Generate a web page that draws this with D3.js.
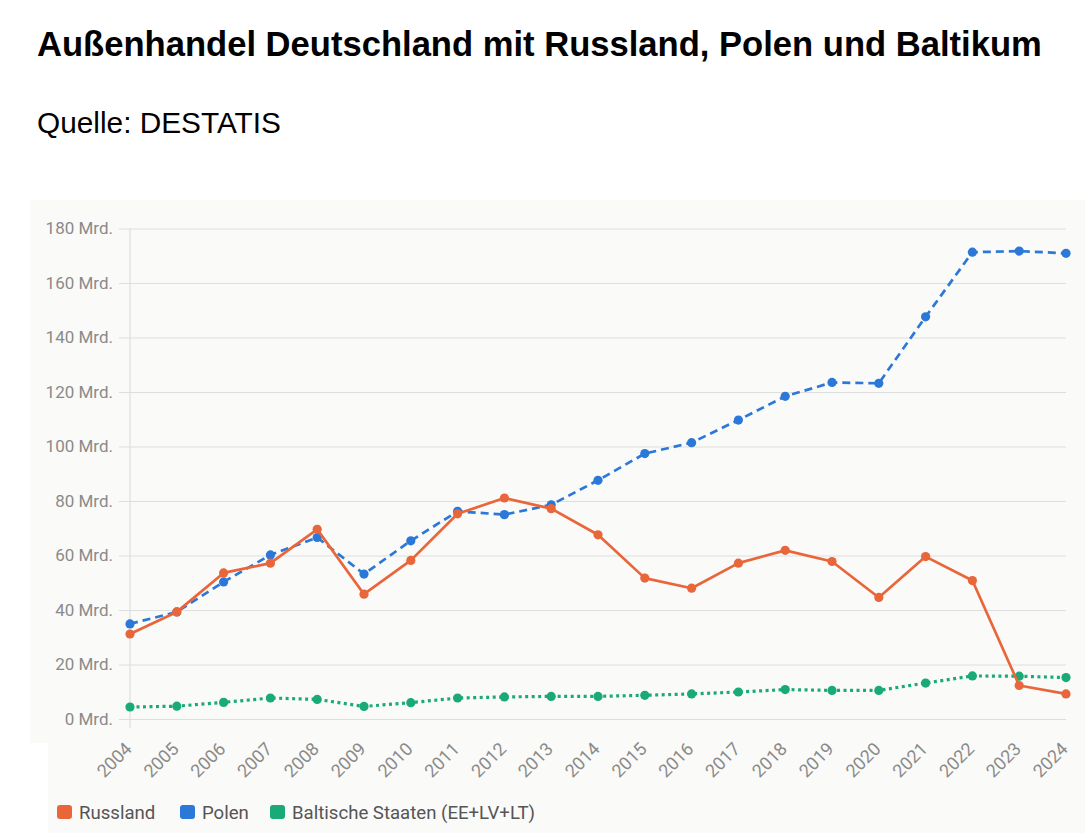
<!DOCTYPE html>
<html lang="de">
<head>
<meta charset="UTF-8"/>
<title>Außenhandel Deutschland mit Russland, Polen und Baltikum</title>
<script src="https://d3js.org/d3.v7.min.js"></script>
<style>
  body { margin: 0; background: #fff; }
  svg { display: block; }
</style>
</head>
<body>
<script>

    var w = 1085;
    var h = 833;

    // data (Mrd. Euro)
    var years = ["2004","2005","2006","2007","2008","2009","2010","2011","2012","2013","2014",
                 "2015","2016","2017","2018","2019","2020","2021","2022","2023","2024"];
    var russland = [31.2, 39.3, 53.6, 57.2, 69.6, 45.8, 58.2, 75.3, 81.1, 77.2, 67.6,
                    51.7, 48.0, 57.2, 61.9, 57.8, 44.6, 59.6, 50.8, 12.3, 9.2];
    var polen = [34.9, 39.3, 50.3, 60.2, 66.6, 53.2, 65.4, 76.2, 75.0, 78.6, 87.6,
                 97.4, 101.4, 109.7, 118.4, 123.5, 123.2, 147.6, 171.3, 171.7, 170.9];
    var baltikum = [4.4, 4.7, 6.1, 7.7, 7.2, 4.6, 6.0, 7.7, 8.1, 8.3, 8.3,
                    8.7, 9.2, 9.9, 10.8, 10.5, 10.5, 13.2, 15.8, 15.7, 15.2];
    var yTicks = [0, 20, 40, 60, 80, 100, 120, 140, 160, 180];
    var seriesNames = ["Russland", "Polen", "Baltische Staaten (EE+LV+LT)"];

    var series = [
        { name: seriesNames[0], values: russland, color: "#e8663a", dash: null },
        { name: seriesNames[1], values: polen,    color: "#2b78d8", dash: "8,5" },
        { name: seriesNames[2], values: baltikum, color: "#19aa78", dash: "3,3.5" }
    ];

    var svg = d3.select("body")
                .append("svg")
                .attr("width", w)
                .attr("height", h);

    // background panels
    svg.append("rect")
        .attr("x", 30).attr("y", 200)
        .attr("width", w - 30).attr("height", 543)
        .attr("fill", "#fafaf8");
    svg.append("rect")
        .attr("x", 48).attr("y", 743)
        .attr("width", w - 48).attr("height", h - 743)
        .attr("fill", "#fafaf8");

    // title
    svg.append("text")
        .attr("x", 37).attr("y", 56)
        .attr("font-family", "'Liberation Sans', Arial, sans-serif")
        .attr("font-weight", "bold")
        .attr("font-size", "34.6px")
        .attr("fill", "#000")
        .text("Außenhandel Deutschland mit Russland, Polen und Baltikum");

    svg.append("text")
        .attr("x", 37).attr("y", 133)
        .attr("font-family", "'Liberation Sans', Arial, sans-serif")
        .attr("font-size", "29.8px")
        .attr("fill", "#000")
        .text("Quelle: DESTATIS");

    // scales
    var xScale = d3.scalePoint()
        .domain(years)
        .range([130, 1066]);

    var yScale = d3.scaleLinear()
        .domain([0, 180])
        .range([719, 228.5]);

    // grid + y axis (axis sits at the right end, ticks reach back to x=119)
    var yAxis = d3.axisLeft(yScale)
        .tickValues(yTicks)
        .tickSize(1066 - 119)
        .tickPadding(6)
        .tickFormat(function(d) { return d + " Mrd."; });

    var gy = svg.append("g")
        .attr("transform", "translate(1066,0)")
        .call(yAxis);
    gy.select(".domain").remove();
    gy.selectAll("line")
        .attr("stroke", "#dedede")
        .attr("stroke-width", 1.2);
    gy.selectAll("text")
        .attr("font-family", "Roboto, sans-serif")
        .attr("font-size", "17px")
        .attr("fill", "#8a8a8a");

    // vertical axis line
    svg.append("line")
        .attr("x1", 130).attr("x2", 130)
        .attr("y1", 228.5).attr("y2", 728)
        .attr("stroke", "#dedede")
        .attr("stroke-width", 1.2);

    // x axis labels
    var xAxis = d3.axisBottom(xScale).tickSize(0).tickPadding(0);
    var gx = svg.append("g")
        .call(xAxis);
    gx.select(".domain").remove();
    gx.selectAll(".tick").attr("transform", null);
    gx.selectAll(".tick text")
        .attr("y", 0)
        .attr("dy", 0)
        .attr("font-family", "Roboto, sans-serif")
        .attr("font-size", "18px")
        .attr("fill", "#8a8a8a")
        .attr("text-anchor", "end")
        .attr("transform", function(d) {
            return "translate(" + (xScale(d) + 3) + ",750) rotate(-45)";
        });

    // lines and points
    var line = d3.line()
        .x(function(d, i) { return xScale(years[i]); })
        .y(function(d) { return yScale(d); });

    // draw Baltikum first, then Polen, then Russland on top
    [series[2], series[1], series[0]].forEach(function(s) {
        svg.append("path")
            .datum(s.values)
            .attr("d", line)
            .attr("fill", "none")
            .attr("stroke", s.color)
            .attr("stroke-width", s.dash === "3,3.5" ? 3.2 : 2.7)
            .attr("stroke-dasharray", s.dash)
            .attr("stroke-linejoin", "round");

        svg.append("g")
            .selectAll("circle")
            .data(s.values)
            .enter()
            .append("circle")
            .attr("cx", function(d, i) { return xScale(years[i]); })
            .attr("cy", function(d) { return yScale(d); })
            .attr("r", 4.6)
            .attr("fill", s.color);
    });

    // legend
    var legendX = [57, 180, 270];
    var legend = svg.append("g");
    series.forEach(function(s, i) {
        legend.append("rect")
            .attr("x", legendX[i]).attr("y", 805)
            .attr("width", 15).attr("height", 14)
            .attr("rx", 3)
            .attr("fill", s.color);
        legend.append("text")
            .attr("x", legendX[i] + 22).attr("y", 818.5)
            .attr("font-family", "Roboto, sans-serif")
            .attr("font-size", "18.6px")
            .attr("fill", "#555")
            .text(s.name);
    });
</script>
</body>
</html>
